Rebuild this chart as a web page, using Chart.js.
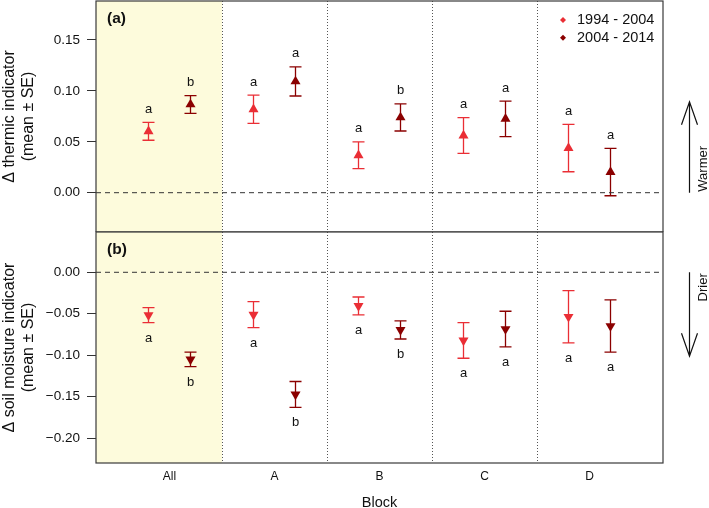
<!DOCTYPE html>
<html>
<head>
<meta charset="utf-8">
<script src="https://cdn.jsdelivr.net/npm/chart.js@4.4.0/dist/chart.umd.min.js"></script>
<style>
  html, body { margin: 0; padding: 0; background: #fff; overflow: hidden; }
  #wrap { position: relative; width: 709px; height: 508px; }
  #thermicChart { position: absolute; left: 0; top: 0; }
  #moistChart { position: absolute; left: 0; top: 231px; }
</style>
</head>
<body>
<div id="wrap">
  <canvas id="thermicChart" width="709" height="232"></canvas>
  <canvas id="moistChart" width="709" height="277"></canvas>
</div>
<script>
// data
const blocks = ['All', 'A', 'B', 'C', 'D'];
const periods = ['1994 - 2004', '2004 - 2014'];

const thermicMean1994 = [0.0603, 0.0819, 0.0368, 0.0562, 0.0439];
const thermicSE1994   = [0.0088, 0.0139, 0.0132, 0.0175, 0.0233];
const thermicMean2004 = [0.0867, 0.1093, 0.0739, 0.0725, 0.0203];
const thermicSE2004   = [0.0087, 0.0143, 0.0133, 0.0175, 0.0233];
const thermicLetters1994 = ['a', 'a', 'a', 'a', 'a'];
const thermicLetters2004 = ['b', 'a', 'b', 'a', 'a'];

const moistMean1994 = [-0.0517, -0.0511, -0.0406, -0.0822, -0.0537];
const moistSE1994   = [0.0090, 0.0157, 0.0108, 0.0215, 0.0315];
const moistMean2004 = [-0.1051, -0.1474, -0.0696, -0.0685, -0.0649];
const moistSE2004   = [0.0087, 0.0156, 0.0109, 0.0215, 0.0315];
const moistLetters1994 = ['a', 'a', 'a', 'a', 'a'];
const moistLetters2004 = ['b', 'b', 'b', 'a', 'a'];

const thermicTicks = [0, 0.05, 0.10, 0.15];
const moistTicks = [0, -0.05, -0.10, -0.15, -0.20];

const red = '#ea2e35';
const darkRed = '#8b0000';
const FONT = '"Liberation Sans", Arial, Helvetica, sans-serif';
const dodge = 0.2;

const panels = {
  thermicChart: {
    tag: '(a)', down: false, legend: true,
    arrow: { text: 'Warmer', len: 91 },
    series: [
      { mean: thermicMean1994, se: thermicSE1994, letters: thermicLetters1994, color: red, off: -dodge },
      { mean: thermicMean2004, se: thermicSE2004, letters: thermicLetters2004, color: darkRed, off: dodge }
    ]
  },
  moistChart: {
    tag: '(b)', down: true, legend: false,
    arrow: { text: 'Drier', len: 84 },
    series: [
      { mean: moistMean1994, se: moistSE1994, letters: moistLetters1994, color: red, off: -dodge },
      { mean: moistMean2004, se: moistSE2004, letters: moistLetters2004, color: darkRed, off: dodge }
    ]
  }
};

function toPoints(means, off) {
  return means.map((m, i) => ({ x: i + 1 + off, y: m }));
}

function fmtTick(v) {
  if (Math.abs(v) < 1e-9) return '0.00';
  return (v < 0 ? '\u2212' : '') + Math.abs(v).toFixed(2);
}

// shading, dividers, error bars, letters, frame, legend and arrows
const decor = {
  id: 'decor',
  beforeDatasetsDraw(chart) {
    const p = panels[chart.canvas.id];
    const { ctx, chartArea: a, scales: { x, y } } = chart;
    ctx.save();
    ctx.fillStyle = '#fdfbdc';
    const xs = x.getPixelForValue(1.5);
    ctx.fillRect(a.left, a.top, xs - a.left, a.bottom - a.top);

    ctx.strokeStyle = '#555';
    ctx.lineWidth = 1;
    ctx.setLineDash([1, 2]);
    for (let k = 1; k < blocks.length; k++) {
      const px = Math.round(x.getPixelForValue(k + 0.5)) + 0.5;
      ctx.beginPath();
      ctx.moveTo(px, a.top);
      ctx.lineTo(px, a.bottom);
      ctx.stroke();
    }
    ctx.setLineDash([]);

    p.series.forEach(s => {
      ctx.strokeStyle = s.color;
      ctx.lineWidth = 1.3;
      s.mean.forEach((m, i) => {
        const px = x.getPixelForValue(i + 1 + s.off);
        const y1 = y.getPixelForValue(m + s.se[i]);
        const y2 = y.getPixelForValue(m - s.se[i]);
        ctx.beginPath();
        ctx.moveTo(px, y1); ctx.lineTo(px, y2);
        ctx.moveTo(px - 6, y1); ctx.lineTo(px + 6, y1);
        ctx.moveTo(px - 6, y2); ctx.lineTo(px + 6, y2);
        ctx.stroke();
      });
    });
    ctx.restore();
  },
  afterDatasetsDraw(chart) {
    const p = panels[chart.canvas.id];
    const { ctx, chartArea: a, scales: { x, y } } = chart;
    ctx.save();

    // letters
    ctx.fillStyle = '#111';
    ctx.font = '13px ' + FONT;
    ctx.textAlign = 'center';
    ctx.textBaseline = 'alphabetic';
    p.series.forEach(s => {
      s.mean.forEach((m, i) => {
        const px = x.getPixelForValue(i + 1 + s.off);
        if (p.down) {
          ctx.fillText(s.letters[i], px, y.getPixelForValue(m - s.se[i]) + 19);
        } else {
          ctx.fillText(s.letters[i], px, y.getPixelForValue(m + s.se[i]) - 9.5);
        }
      });
    });

    // frame
    ctx.strokeStyle = '#3a3a3a';
    ctx.lineWidth = 1.2;
    ctx.strokeRect(a.left, a.top, a.right - a.left, a.bottom - a.top);

    // panel tag
    ctx.font = 'bold 15.5px ' + FONT;
    ctx.textAlign = 'left';
    ctx.textBaseline = 'middle';
    ctx.fillText(p.tag, a.left + 11, a.top + 17.5);

    // legend
    if (p.legend) {
      ctx.font = '14.5px ' + FONT;
      [red, darkRed].forEach((c, k) => {
        const ly = a.top + 19 + k * 17.7;
        const lx = a.right - 100;
        ctx.fillStyle = c;
        ctx.beginPath();
        ctx.moveTo(lx, ly - 3); ctx.lineTo(lx + 3, ly);
        ctx.lineTo(lx, ly + 3); ctx.lineTo(lx - 3, ly);
        ctx.closePath();
        ctx.fill();
        ctx.fillStyle = '#111';
        ctx.fillText(periods[k], lx + 14, ly);
      });
    }

    // direction arrow
    const y0 = y.getPixelForValue(0);
    const ax = a.right + 26.5;
    const dir = p.down ? 1 : -1;
    const tip = y0 + dir * p.arrow.len;
    ctx.strokeStyle = '#111';
    ctx.lineWidth = 1.2;
    ctx.beginPath();
    ctx.moveTo(ax, y0); ctx.lineTo(ax, tip);
    ctx.moveTo(ax - 8, tip - dir * 23); ctx.lineTo(ax, tip); ctx.lineTo(ax + 8, tip - dir * 23);
    ctx.stroke();
    ctx.translate(a.right + 40.5, y0);
    ctx.rotate(-Math.PI / 2);
    ctx.font = '13px ' + FONT;
    ctx.fillStyle = '#111';
    ctx.textBaseline = 'middle';
    ctx.textAlign = p.down ? 'right' : 'left';
    ctx.fillText(p.arrow.text, p.down ? -1 : 1, 0);
    ctx.restore();
  }
};

function yAxis(title, ticks, min, max) {
  return {
    type: 'linear',
    min: min,
    max: max,
    afterBuildTicks: scale => { scale.ticks = ticks.map(v => ({ value: v })); },
    afterFit: scale => {
      scale.width = 96;
      scale.paddingTop = 0;
      scale.paddingBottom = 0;
    },
    border: { display: false },
    grid: { display: true, drawOnChartArea: false, drawTicks: true, tickLength: 9, color: '#333', lineWidth: 1 },
    ticks: { color: '#111', padding: 7, font: { family: FONT, size: 13.5 }, callback: v => fmtTick(v) },
    title: { display: true, text: title, color: '#111', padding: { top: 0, bottom: 0 }, font: { family: FONT, size: 16, lineHeight: 1.2 } }
  };
}

function makeDatasets(p, style, rotation) {
  const ds = p.series.map((s, k) => ({
    type: 'scatter',
    label: periods[k],
    data: toPoints(s.mean, s.off),
    pointStyle: style,
    rotation: rotation,
    pointRadius: 5.8,
    pointHoverRadius: 5.8,
    backgroundColor: s.color,
    borderColor: s.color,
    borderWidth: 0,
    order: 1
  }));
  ds.push({
    type: 'line',
    label: 'zero',
    data: [{ x: 0.3, y: 0 }, { x: 5.7, y: 0 }],
    borderColor: '#333',
    borderWidth: 1,
    borderDash: [5, 4],
    pointRadius: 0,
    order: 3
  });
  return ds;
}

const common = {
  responsive: false,
  animation: false,
  events: [],
  plugins: { legend: { display: false }, tooltip: { enabled: false } }
};

new Chart(document.getElementById('thermicChart').getContext('2d'), {
  type: 'scatter',
  data: { datasets: makeDatasets(panels.thermicChart, 'triangle', 0) },
  options: Object.assign({}, common, {
    layout: { autoPadding: false, padding: { left: 0, right: 46, top: 1, bottom: 0 } },
    scales: {
      x: { type: 'linear', min: 0.3, max: 5.7, display: false },
      y: yAxis(['\u0394 thermic indicator', '(mean \u00b1 SE)'], thermicTicks, -0.0386, 0.1883)
    }
  }),
  plugins: [decor]
});

new Chart(document.getElementById('moistChart').getContext('2d'), {
  type: 'scatter',
  data: { datasets: makeDatasets(panels.moistChart, 'triangle', 180) },
  options: Object.assign({}, common, {
    layout: { autoPadding: false, padding: { left: 0, right: 46, top: 1, bottom: 0 } },
    scales: {
      x: {
        type: 'linear', min: 0.3, max: 5.7,
        afterBuildTicks: scale => { scale.ticks = blocks.map((b, i) => ({ value: i + 1 })); },
        afterFit: scale => { scale.height = 45; },
        border: { display: false },
        grid: { display: false, drawTicks: false },
        ticks: { color: '#111', padding: 6, font: { family: FONT, size: 12 }, callback: v => blocks[v - 1] },
        title: { display: true, text: 'Block', color: '#111', padding: { top: 0, bottom: -2 }, font: { family: FONT, size: 14.5, lineHeight: 1 } }
      },
      y: yAxis(['\u0394 soil moisture indicator', '(mean \u00b1 SE)'], moistTicks, -0.2301, 0.0486)
    }
  }),
  plugins: [decor]
});
</script>
</body>
</html>
